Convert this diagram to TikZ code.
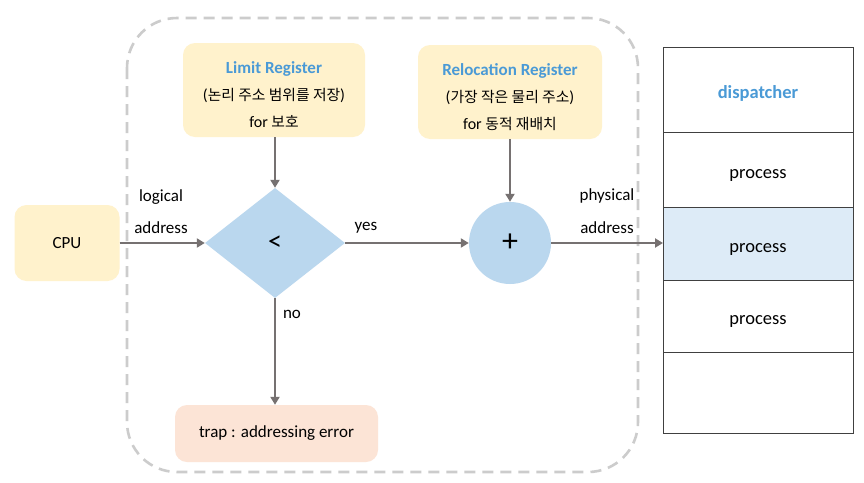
\documentclass[tikz,border=0pt]{standalone}
\usepackage{fontspec}
\setmainfont{Carlito}
\newfontfamily\kr{Noto Sans CJK KR}
\usetikzlibrary{shapes.geometric,arrows.meta}
\definecolor{ylw}{HTML}{FFF2CC}
\definecolor{lblue}{HTML}{BAD7EE}
\definecolor{peach}{HTML}{FCE4D6}
\definecolor{ttl}{HTML}{4A9AD6}
\definecolor{hrow}{HTML}{DDEBF7}
\definecolor{arr}{HTML}{767171}
\definecolor{frame}{HTML}{CCCCCC}
\tikzset{
  box/.style={rounded corners=12pt, fill=#1, draw=none, inner sep=0pt, align=center},
  conn/.style={draw=arr, line width=2.8pt, -{Triangle[length=8pt,width=9pt]}},
  lbl/.style={font=\fontsize{17}{19}\selectfont, inner sep=0pt},
  memrow/.style={draw=black!75, line width=0.9pt, minimum width=190pt, inner sep=0pt, outer sep=0pt,
    text height=17pt, text depth=0pt, font=\fontsize{18.5}{20}\selectfont},
  regtext/.style={font=\fontsize{16}{27}\selectfont, align=center, inner sep=0pt},
}
\newcommand{\krs}[1]{{\kr\fontsize{14.8}{27}\selectfont #1}}
\begin{document}
\begin{tikzpicture}[x=1pt,y=-1pt]
\useasboundingbox (0,0) rectangle (864,482);
\fill[white] (0,0) rectangle (864,482);
% dashed frame
\draw[frame, line width=2.6pt, dash pattern=on 11pt off 7pt, rounded corners=50pt] (127,18) rectangle (638,472);

% registers
\node[box=ylw, minimum width=182pt, minimum height=94pt] (lim) at (274,90) {};
\node[regtext] (limt) at ([yshift=-5pt]lim.center)
  {\textcolor{ttl}{\bfseries\fontsize{17}{27}\selectfont Limit Register}\\(\krs{논리 주소 범위를 저장})\\for \krs{보호}};
\node[box=ylw, minimum width=184pt, minimum height=94pt] (rel) at (510,92) {};
\node[regtext] (relt) at ([yshift=-5pt]rel.center)
  {\textcolor{ttl}{\bfseries\fontsize{17}{27}\selectfont Relocation Register}\\(\krs{가장 작은 물리 주소})\\for \krs{동적 재배치}};

% CPU
\node[box=ylw, minimum width=105pt, minimum height=76pt, font=\fontsize{17}{19}\selectfont] (cpu) at (67,243) {CPU};

% comparator
\node[diamond, fill=lblue, minimum width=140pt, minimum height=110pt, inner sep=0pt, aspect=1.27, font=\fontsize{28}{28}\selectfont] (cmp) at (275,243) {<};

% adder
\node[circle, fill=lblue, minimum size=82pt, inner sep=0pt, font=\fontsize{32}{32}\selectfont] (add) at (510,243) {+};

% trap
\node[box=peach, minimum width=203pt, minimum height=57pt, font=\fontsize{17}{19}\selectfont] (trap) at (276.5,433.5) {trap : addressing error};

% memory
\node[memrow, minimum height=85pt, anchor=north] (m1) at (758,47) {\textcolor{ttl}{\bfseries dispatcher}};
\node[memrow, minimum height=75pt, anchor=north] (m2) at (m1.south) {process};
\node[memrow, minimum height=73pt, anchor=north, fill=hrow] (m3) at (m2.south) {process};
\node[memrow, minimum height=72pt, anchor=north] (m4) at (m3.south) {process};
\node[memrow, minimum height=81pt, anchor=north] (m5) at (m4.south) {};

% connectors
\draw[conn] (cpu.east) -- (cmp.west);
\draw[conn] (lim.south -| cmp.north) -- (cmp.north);
\draw[conn] (cmp.east) -- (add.west);
\draw[conn] (rel.south -| add.north) -- (add.north);
\draw[conn] (cmp.south) -- (trap.north -| cmp.south);
\draw[conn] (add.east) -- (add.east -| m3.west);

% labels
\node[lbl] (l1) at (161,197) {logical};
\node[lbl] (l2) at (161,228) {address};
\node[lbl] (ly) at (366,228) {yes};
\node[lbl] (ln) at (292,314) {no};
\node[lbl] (p1) at (607,196) {physical};
\node[lbl] (p2) at (607,228) {address};
\end{tikzpicture}
\end{document}
